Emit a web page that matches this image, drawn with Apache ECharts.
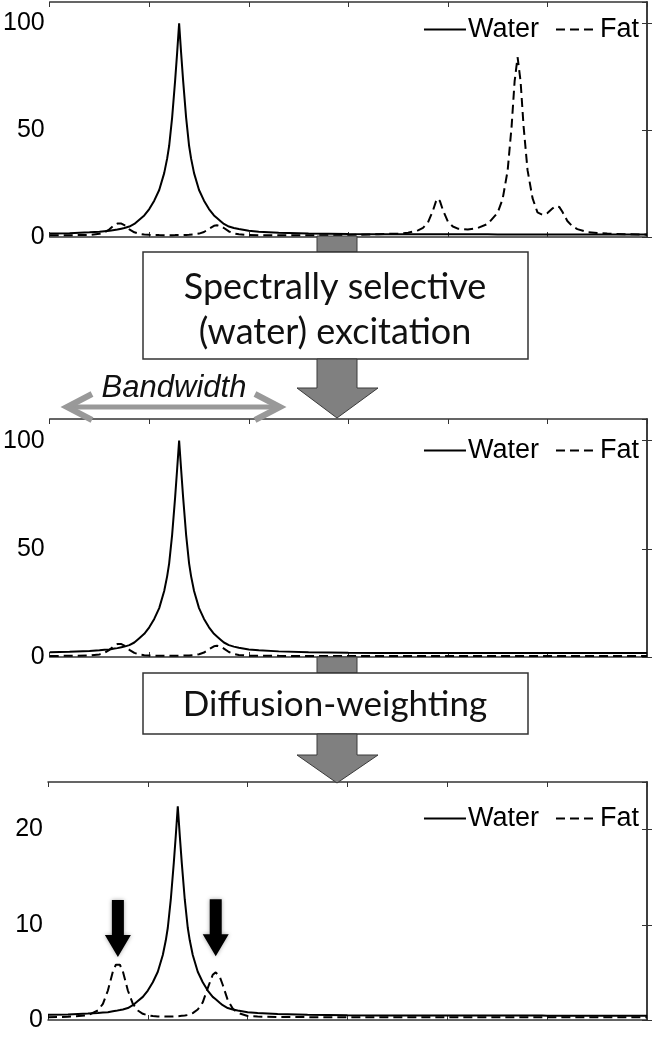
<!DOCTYPE html>
<html>
<head>
<meta charset="utf-8">
<script src="https://cdn.jsdelivr.net/npm/echarts@6/dist/echarts.min.js"></script>
<style>
html,body{margin:0;padding:0;background:#fff;}
#chart{width:652px;height:1050px;}
</style>
</head>
<body>
<div id="chart"></div>
<script>
// Chemical shift positions (ppm), shared by all curves
const ppm = [6.0,5.8,5.6,5.5,5.45,5.4,5.35,5.32,5.3,5.28,5.25,5.2,5.15,5.1,5.05,5.0,4.95,4.9,4.85,4.82,4.8,4.77,4.74,4.72,4.7,4.68,4.66,4.63,4.6,4.58,4.55,4.5,4.45,4.4,4.35,4.32,4.3,4.28,4.25,4.2,4.15,4.1,4.0,3.9,3.7,3.4,3.0,2.7,2.5,2.4,2.3,2.25,2.2,2.15,2.12,2.1,2.08,2.05,2.0,1.95,1.9,1.8,1.7,1.6,1.5,1.45,1.4,1.36,1.33,1.3,1.27,1.24,1.2,1.15,1.1,1.05,1.0,0.95,0.92,0.9,0.88,0.85,0.8,0.75,0.7,0.6,0.5,0.4,0.2,0.0];

// Panel 1: full spectrum
const water1 = [1.6,1.8,2.2,2.5,2.7,2.9,3.3,3.5,3.7,3.9,4.2,4.9,6.1,8.1,10.1,13.1,17.0,22.0,29.9,36.8,42.7,56.0,73.3,86.2,100,86.2,73.3,56.0,42.7,36.8,29.9,22.0,17.0,13.1,10.1,8.9,8.1,7.3,6.1,4.9,4.2,3.7,2.9,2.5,2.0,1.6,1.4,1.3,1.3,1.3,1.3,1.3,1.3,1.3,1.3,1.3,1.3,1.3,1.3,1.3,1.3,1.3,1.3,1.25,1.2,1.2,1.2,1.2,1.2,1.2,1.2,1.2,1.2,1.2,1.2,1.2,1.2,1.2,1.2,1.2,1.2,1.2,1.2,1.2,1.2,1.2,1.2,1.2,1.2,1.2];
const fat1 = [0.8,0.84,1.0,1.5,2.2,3.6,5.6,6.3,6.4,6.3,5.6,3.6,2.2,1.5,1.15,1.0,0.92,0.88,0.87,0.86,0.86,0.87,0.88,0.89,0.9,0.92,0.94,0.97,1.02,1.07,1.22,1.6,2.35,3.85,5.25,5.5,5.4,5.05,4.2,2.6,1.7,1.25,0.92,0.86,0.85,0.8,0.9,1.3,1.6,2.0,3.1,4.3,6.8,12.4,16.7,18.0,16.8,12.6,7.2,4.9,3.9,3.5,4.2,6.1,11.4,17.8,31.1,51.8,72.8,84.2,72.9,51.9,31.3,18.2,11.5,10.4,11.2,13.3,14.4,14.6,14.0,11.8,7.5,5.0,3.7,2.3,1.9,1.6,1.3,1.1];

// Panel 2: after spectrally selective (water) excitation
const water2 = [2.2,2.4,2.8,3.1,3.3,3.5,3.9,4.1,4.3,4.5,4.8,5.5,6.7,8.7,10.7,13.7,17.6,22.6,30.5,37.4,43.3,56.6,73.9,86.8,100,86.8,73.9,56.6,43.3,37.4,30.5,22.6,17.6,13.7,10.7,9.5,8.7,7.9,6.7,5.5,4.8,4.3,3.5,3.1,2.6,2.2,2.0,1.9,1.9,1.9,1.9,1.9,1.9,1.9,1.9,1.9,1.9,1.9,1.9,1.9,1.9,1.9,1.9,1.85,1.8,1.8,1.8,1.8,1.8,1.8,1.8,1.8,1.8,1.8,1.8,1.8,1.8,1.8,1.8,1.8,1.8,1.8,1.8,1.8,1.8,1.8,1.8,1.8,1.8,1.8];
const fat2 = [0.5,0.54,0.7,1.2,1.9,3.3,5.3,6.0,6.1,6.0,5.3,3.3,1.9,1.2,0.85,0.7,0.62,0.58,0.57,0.56,0.56,0.57,0.58,0.59,0.6,0.62,0.64,0.67,0.72,0.77,0.92,1.3,2.05,3.55,4.95,5.2,5.1,4.75,3.9,2.3,1.4,0.95,0.62,0.56,0.52,0.5,0.5,0.5,0.5,0.5,0.5,0.5,0.5,0.5,0.5,0.5,0.5,0.5,0.5,0.5,0.5,0.5,0.5,0.5,0.5,0.5,0.5,0.5,0.5,0.5,0.5,0.5,0.5,0.5,0.5,0.5,0.5,0.5,0.5,0.5,0.5,0.5,0.5,0.5,0.5,0.5,0.5,0.5,0.5,0.5];

// Panel 3: after diffusion-weighting
const water3 = [0.54,0.58,0.67,0.74,0.78,0.82,0.91,0.96,1.0,1.04,1.11,1.26,1.55,1.99,2.43,3.09,3.97,5.07,6.83,8.37,9.69,12.66,16.51,19.37,22.45,19.37,16.51,12.66,9.69,8.37,6.83,5.07,3.97,3.09,2.43,2.17,1.99,1.81,1.55,1.26,1.11,1.0,0.82,0.74,0.63,0.54,0.49,0.47,0.47,0.47,0.47,0.47,0.47,0.47,0.47,0.47,0.47,0.47,0.47,0.47,0.47,0.46,0.46,0.46,0.46,0.46,0.46,0.46,0.46,0.46,0.46,0.46,0.46,0.46,0.46,0.46,0.45,0.45,0.45,0.45,0.45,0.45,0.45,0.45,0.45,0.45,0.45,0.45,0.45,0.45];
const fat3 = [0.3,0.34,0.5,1.0,1.7,3.1,5.1,5.8,5.9,5.8,5.1,3.1,1.7,1.0,0.65,0.5,0.42,0.38,0.37,0.36,0.36,0.37,0.38,0.39,0.4,0.42,0.44,0.47,0.52,0.57,0.72,1.1,1.85,3.35,4.75,5.0,4.9,4.55,3.7,2.1,1.2,0.75,0.42,0.36,0.32,0.3,0.3,0.3,0.3,0.3,0.3,0.3,0.3,0.3,0.3,0.3,0.3,0.3,0.3,0.3,0.3,0.3,0.3,0.3,0.3,0.3,0.3,0.3,0.3,0.3,0.3,0.3,0.3,0.3,0.3,0.3,0.3,0.3,0.3,0.3,0.3,0.3,0.3,0.3,0.3,0.3,0.3,0.3,0.3,0.3];

// Axis settings
const yMax = [110, 110, 25];
const yStep = [50, 50, 10];
const xMin = 0, xMax = 6, xStep = 1;

// Arrow markers (ppm, signal) pointing at the residual fat peaks
const arrowPts = [[5.3, 9.6], [4.32, 9.7]];

const seriesNames = ['Water', 'Fat'];
const boxText1 = 'Spectrally selective\n(water) excitation';
const boxText2 = 'Diffusion-weighting';
const bwText = 'Bandwidth';

const grids = [
  {left: 48, top: 2, width: 599, height: 235},
  {left: 48, top: 419, width: 599, height: 238},
  {left: 48, top: 782, width: 599, height: 238}
];
const legendTops = [16, 437, 805];

const axisCol = '#333';
const xAxes = [], yAxes = [];
grids.forEach((g, i) => {
  const common = {
    type: 'value', min: xMin, max: xMax, interval: xStep, inverse: true, gridIndex: i,
    axisLine: {show: true, onZero: false, lineStyle: {color: axisCol, width: 1.5}},
    axisTick: {show: true, inside: true, length: 5, lineStyle: {color: axisCol}},
    axisLabel: {show: false}, splitLine: {show: false}
  };
  xAxes.push(Object.assign({position: 'bottom'}, common));
  xAxes.push(Object.assign({position: 'top'}, common));
  const yc = {
    type: 'value', min: 0, max: yMax[i], interval: yStep[i], gridIndex: i,
    axisLine: {show: true, lineStyle: {color: axisCol, width: 1.5}},
    axisTick: {show: true, inside: true, length: 5, lineStyle: {color: axisCol}},
    splitLine: {show: false}
  };
  yAxes.push(Object.assign({position: 'left', axisLabel: {show: true, showMaxLabel: false, margin: 5, fontSize: 25, color: '#000', fontFamily: 'Liberation Sans, Arial, sans-serif'}}, yc));
  yAxes.push(Object.assign({position: 'right', axisLabel: {show: false}}, yc));
});

const waterSets = [water1, water2, water3];
const fatSets = [fat1, fat2, fat3];
const series = [];
for (let i = 0; i < 3; i++) {
  series.push({
    name: seriesNames[0], type: 'line', xAxisIndex: 2 * i, yAxisIndex: 2 * i,
    data: ppm.map((x, k) => [x, waterSets[i][k]]),
    symbol: 'none', smooth: false, animation: false,
    lineStyle: {color: '#000', width: 2, type: 'solid'}, itemStyle: {color: '#000'}, z: 3
  });
  const fs = {
    name: seriesNames[1], type: 'line', xAxisIndex: 2 * i, yAxisIndex: 2 * i,
    data: ppm.map((x, k) => [x, fatSets[i][k]]),
    symbol: 'none', smooth: false, animation: false,
    lineStyle: {color: '#000', width: 2, type: [9, 5]}, itemStyle: {color: '#000'}, z: 2
  };
  if (i === 2) {
    fs.markPoint = {
      symbol: 'path://M-6,0 L6,0 L6,35 L13,35 L0,57 L-13,35 L-6,35 Z',
      symbolSize: [26, 57], symbolKeepAspect: false,
      label: {show: false},
      itemStyle: {color: '#000', shadowBlur: 4, shadowColor: 'rgba(0,0,0,0.35)'},
      data: arrowPts.map(p => ({coord: p}))
    };
  }
  series.push(fs);
}

const legends = legendTops.map(t => ({
  data: seriesNames, right: 13, top: t, orient: 'horizontal', padding: 0,
  itemWidth: 42, itemHeight: 14, itemGap: 16,
  itemStyle: {opacity: 0},
  lineStyle: {width: 2},
  textStyle: {fontSize: 27, color: '#000', fontFamily: 'Liberation Sans, Arial, sans-serif', padding: [0, 0, 0, -3]},
  selectedMode: false
}));

const grey = '#808080', greyStroke = '#3a3a3a';
const graphic = [
  // stem panel1 -> box1
  {type: 'rect', shape: {x: 317, y: 236, width: 40, height: 16}, style: {fill: grey, stroke: greyStroke, lineWidth: 1}, z: 100},
  // box1
  {type: 'rect', shape: {x: 143, y: 252, width: 385, height: 107}, style: {fill: '#fff', stroke: '#333', lineWidth: 1.5}, z: 100},
  {type: 'text', style: {text: boxText1, x: 335, y: 310, align: 'center', verticalAlign: 'middle', fontSize: 36, lineHeight: 45, fontFamily: 'Lato, Open Sans, sans-serif', fill: '#111'}, z: 101},
  // arrow box1 -> panel2
  {type: 'polygon', shape: {points: [[317, 359], [357, 359], [357, 388], [378, 388], [337, 418], [297, 388], [317, 388]]}, style: {fill: grey, stroke: greyStroke, lineWidth: 1}, z: 100},
  // bandwidth double arrow
  {type: 'line', shape: {x1: 70, y1: 407, x2: 277, y2: 407}, style: {stroke: '#999', lineWidth: 5}, z: 100},
  {type: 'polyline', shape: {points: [[92, 394], [67, 407], [92, 420]]}, style: {stroke: '#999', lineWidth: 6, fill: null, lineJoin: 'miter'}, z: 100},
  {type: 'polyline', shape: {points: [[255, 394], [280, 407], [255, 420]]}, style: {stroke: '#999', lineWidth: 6, fill: null, lineJoin: 'miter'}, z: 100},
  {type: 'text', style: {text: bwText, x: 174, y: 388, align: 'center', verticalAlign: 'middle', fontSize: 31, fontStyle: 'italic', fontFamily: 'Liberation Sans, Arial, sans-serif', fill: '#111'}, z: 101},
  // stem panel2 -> box2
  {type: 'rect', shape: {x: 317, y: 657, width: 40, height: 16}, style: {fill: grey, stroke: greyStroke, lineWidth: 1}, z: 100},
  // box2
  {type: 'rect', shape: {x: 143, y: 673, width: 385, height: 61}, style: {fill: '#fff', stroke: '#333', lineWidth: 1.5}, z: 100},
  {type: 'text', style: {text: boxText2, x: 335, y: 705, align: 'center', verticalAlign: 'middle', fontSize: 35, fontFamily: 'Lato, Open Sans, sans-serif', fill: '#111'}, z: 101},
  // arrow box2 -> panel3
  {type: 'polygon', shape: {points: [[317, 734], [357, 734], [357, 755], [378, 755], [337, 783], [297, 755], [317, 755]]}, style: {fill: grey, stroke: greyStroke, lineWidth: 1}, z: 100}
];

const chart = echarts.init(document.getElementById('chart'), null, {renderer: 'canvas'});
chart.setOption({
  animation: false,
  backgroundColor: '#fff',
  grid: grids,
  xAxis: xAxes,
  yAxis: yAxes,
  legend: legends,
  series: series,
  graphic: graphic
});
</script>
</body>
</html>
